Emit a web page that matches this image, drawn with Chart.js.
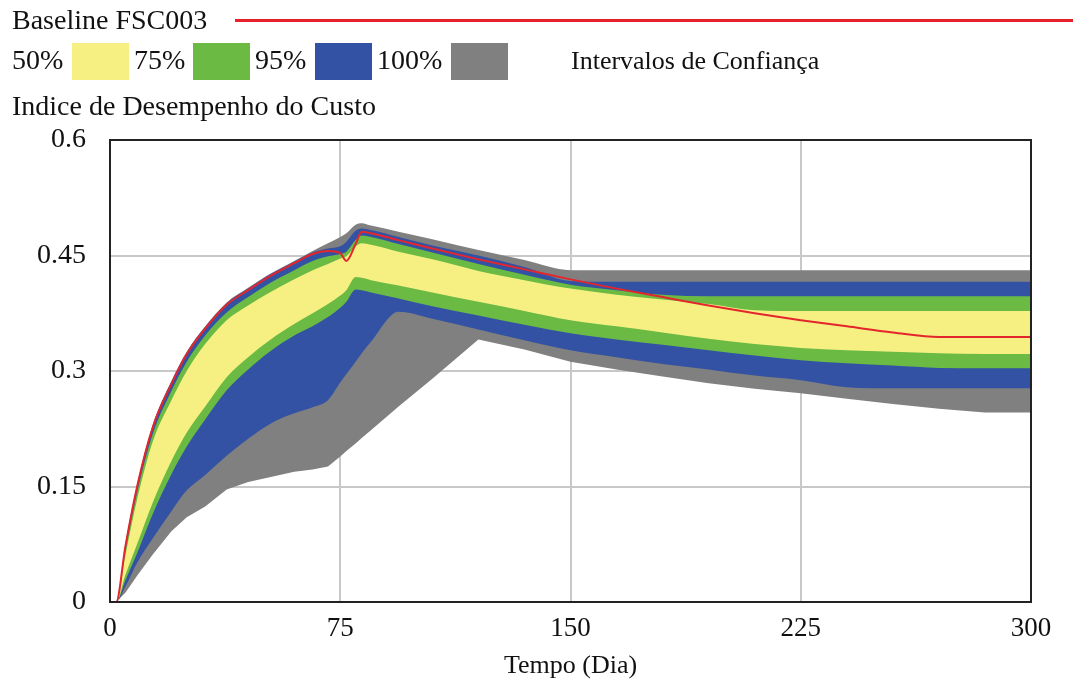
<!DOCTYPE html>
<html lang="pt">
<head>
<meta charset="utf-8">
<script src="https://cdn.jsdelivr.net/npm/chart.js@4.4.1/dist/chart.umd.min.js"></script>
<style>
  html, body { margin: 0; padding: 0; background: #fff; }
  #wrap { position: relative; width: 1073px; height: 684px; font-family: "Liberation Serif", "Times New Roman", serif; color: #111; }
  #wrap canvas { position: absolute; left: 0; top: 0; }
  .txt { position: absolute; white-space: nowrap; font-size: 28px; line-height: 28px; }
  .sw { position: absolute; top: 43px; width: 57px; height: 37px; }
  #linhaBase { position: absolute; left: 235px; top: 19px; width: 838px; height: 3px; background: #e8202a; }
</style>
</head>
<body>
<div id="wrap">
  <canvas id="grafico" width="1073" height="684"></canvas>
  <div class="txt" style="left:12px;top:6px">Baseline FSC003</div>
  <div id="linhaBase"></div>
  <div class="txt" style="left:12px;top:46px">50%</div>
  <div class="sw" style="left:72px;background:#f6f082"></div>
  <div class="txt" style="left:134px;top:46px">75%</div>
  <div class="sw" style="left:193px;background:#6aba44"></div>
  <div class="txt" style="left:255px;top:46px">95%</div>
  <div class="sw" style="left:315px;background:#3352a3"></div>
  <div class="txt" style="left:377px;top:46px">100%</div>
  <div class="sw" style="left:451px;background:#808080"></div>
  <div class="txt" style="left:571px;top:47px;font-size:26px">Intervalos de Confiança</div>
  <div class="txt" style="left:12px;top:92px">Indice de Desempenho do Custo</div>
</div>
<script>
// eixo do tempo (dias)
const dias = [0, 2, 5, 9, 14, 20, 25, 31, 38, 45, 52, 60, 66, 71, 75, 77, 80, 82, 85, 94,
              105, 120, 135, 150, 165, 180, 195, 210, 225, 240, 255, 270, 285, 300];

// linha de base (vermelha)
const baseline = [0, 0, 0.072, 0.153, 0.228, 0.283, 0.322, 0.355, 0.386, 0.405, 0.423, 0.440, 0.452, 0.456, 0.453, 0.443, 0.465, 0.481, 0.479, 0.470,
                  0.459, 0.445, 0.432, 0.419, 0.407, 0.396, 0.385, 0.375, 0.366, 0.358, 0.350, 0.344, 0.344, 0.344];

// limites dos intervalos de confianca
const max100 = [0, 0, 0.075, 0.156, 0.231, 0.287, 0.325, 0.358, 0.389, 0.408, 0.426, 0.443, 0.456, 0.466, 0.474, 0.479, 0.490, 0.492, 0.489, 0.481,
                0.471, 0.457, 0.444, 0.431, 0.431, 0.431, 0.431, 0.431, 0.431, 0.431, 0.431, 0.431, 0.431, 0.431];
const max95 = [0, 0, 0.074, 0.155, 0.230, 0.286, 0.324, 0.357, 0.388, 0.407, 0.425, 0.442, 0.454, 0.459, 0.462, 0.468, 0.482, 0.485, 0.483, 0.474,
               0.463, 0.450, 0.435, 0.417, 0.416, 0.416, 0.416, 0.416, 0.416, 0.416, 0.416, 0.416, 0.416, 0.416];
const max75 = [0, 0, 0.066, 0.145, 0.219, 0.274, 0.312, 0.346, 0.376, 0.396, 0.414, 0.431, 0.443, 0.449, 0.452, 0.455, 0.470, 0.476, 0.474, 0.465,
               0.454, 0.439, 0.425, 0.412, 0.405, 0.399, 0.397, 0.397, 0.397, 0.397, 0.397, 0.397, 0.397, 0.397];
const max50 = [0, 0, 0.060, 0.136, 0.209, 0.262, 0.300, 0.335, 0.366, 0.385, 0.402, 0.419, 0.431, 0.439, 0.446, 0.449, 0.462, 0.466, 0.464, 0.455,
               0.445, 0.430, 0.418, 0.407, 0.399, 0.393, 0.387, 0.379, 0.378, 0.378, 0.378, 0.378, 0.378, 0.378];
const min50 = [0, 0, 0.035, 0.077, 0.130, 0.183, 0.220, 0.254, 0.292, 0.318, 0.340, 0.361, 0.375, 0.387, 0.398, 0.405, 0.422, 0.421, 0.418, 0.411,
               0.402, 0.390, 0.378, 0.366, 0.358, 0.350, 0.342, 0.335, 0.330, 0.327, 0.325, 0.323, 0.322, 0.322];
const min75 = [0, 0, 0.028, 0.065, 0.115, 0.166, 0.202, 0.237, 0.275, 0.302, 0.325, 0.346, 0.358, 0.370, 0.382, 0.390, 0.406, 0.405, 0.402, 0.394,
               0.384, 0.372, 0.360, 0.349, 0.341, 0.334, 0.327, 0.320, 0.314, 0.310, 0.307, 0.304, 0.3035, 0.3035];
const min95 = [0, 0, 0.020, 0.052, 0.083, 0.118, 0.145, 0.165, 0.190, 0.212, 0.231, 0.245, 0.253, 0.262, 0.285, 0.296, 0.312, 0.323, 0.338, 0.377,
               0.368, 0.354, 0.340, 0.327, 0.318, 0.309, 0.302, 0.294, 0.288, 0.279, 0.2775, 0.2775, 0.2775, 0.2775];
const min100 = [0, 0, 0.012, 0.035, 0.062, 0.092, 0.110, 0.124, 0.146, 0.156, 0.162, 0.169, 0.172, 0.176, 0.189, 0.196, 0.206, 0.213, 0.223, 0.254,
                0.290, 0.341, 0.328, 0.312, 0.302, 0.293, 0.284, 0.277, 0.271, 0.264, 0.257, 0.251, 0.246, 0.246];

const xTicks = [0, 75, 150, 225, 300];
const yTicks = [0, 0.15, 0.3, 0.45, 0.6];

const pontos = arr => dias.map((d, i) => ({ x: d, y: arr[i] }));

// faixa: limite superior preenchido ate o limite inferior (dataset seguinte)
function faixa(sup, inf, cor, ordem, modoInf = 'monotone') {
    return [
        { data: pontos(sup), fill: '+1', backgroundColor: cor, borderColor: 'rgba(0,0,0,0)', borderWidth: 0, order: ordem },
        { data: pontos(inf), fill: false, borderColor: 'rgba(0,0,0,0)', borderWidth: 0, order: ordem, cubicInterpolationMode: modoInf, tension: 0 }
    ];
}

// moldura preta em volta da area do grafico
const moldura = {
    id: 'moldura',
    afterDraw(chart) {
        const { ctx, chartArea: a } = chart;
        ctx.save();
        ctx.strokeStyle = '#222';
        ctx.lineWidth = 2;
        ctx.strokeRect(a.left, a.top, a.right - a.left, a.bottom - a.top);
        ctx.restore();
    }
};

const fonteEixo = { family: 'Liberation Serif', size: 27 };

new Chart(document.getElementById('grafico').getContext('2d'), {
    type: 'line',
    data: {
        datasets: [
            { data: pontos(baseline), fill: false, borderColor: '#e3262e', borderWidth: 2, order: 0 },
            ...faixa(max50, min50, '#f6f082', 1),
            ...faixa(max75, min75, '#6aba44', 2),
            ...faixa(max95, min95, '#3352a3', 3),
            ...faixa(max100, min100, '#808080', 4, 'default')   // minimo com quinas vivas
        ]
    },
    options: {
        responsive: false,
        animation: false,
        layout: { padding: { top: 140, right: 42, left: 0, bottom: 0 } },
        elements: { point: { radius: 0 }, line: { cubicInterpolationMode: 'monotone' } },
        plugins: { legend: { display: false }, tooltip: { enabled: false } },
        scales: {
            x: {
                type: 'linear', min: 0, max: 300, z: 1,
                afterBuildTicks: s => { s.ticks = xTicks.map(v => ({ value: v })); },
                afterFit: s => { s.height = 82; },
                grid: { color: '#c8c8c8', lineWidth: 2, drawTicks: false },
                border: { display: false },
                ticks: { padding: 11, color: '#111', font: fonteEixo, maxRotation: 0, autoSkip: false },
                title: { display: true, text: 'Tempo (Dia)', color: '#111', font: { family: 'Liberation Serif', size: 26 }, padding: { top: 0, bottom: 2 } }
            },
            y: {
                min: 0, max: 0.6, z: 1,
                afterBuildTicks: s => { s.ticks = yTicks.map(v => ({ value: v })); },
                afterFit: s => { s.width = 110; },
                grid: { color: '#c8c8c8', lineWidth: 2, drawTicks: false },
                border: { display: false },
                ticks: { padding: 24, color: '#111', font: { family: 'Liberation Serif', size: 28 }, callback: v => String(+v.toFixed(2)) }
            }
        }
    },
    plugins: [moldura]
});
</script>
</body>
</html>
